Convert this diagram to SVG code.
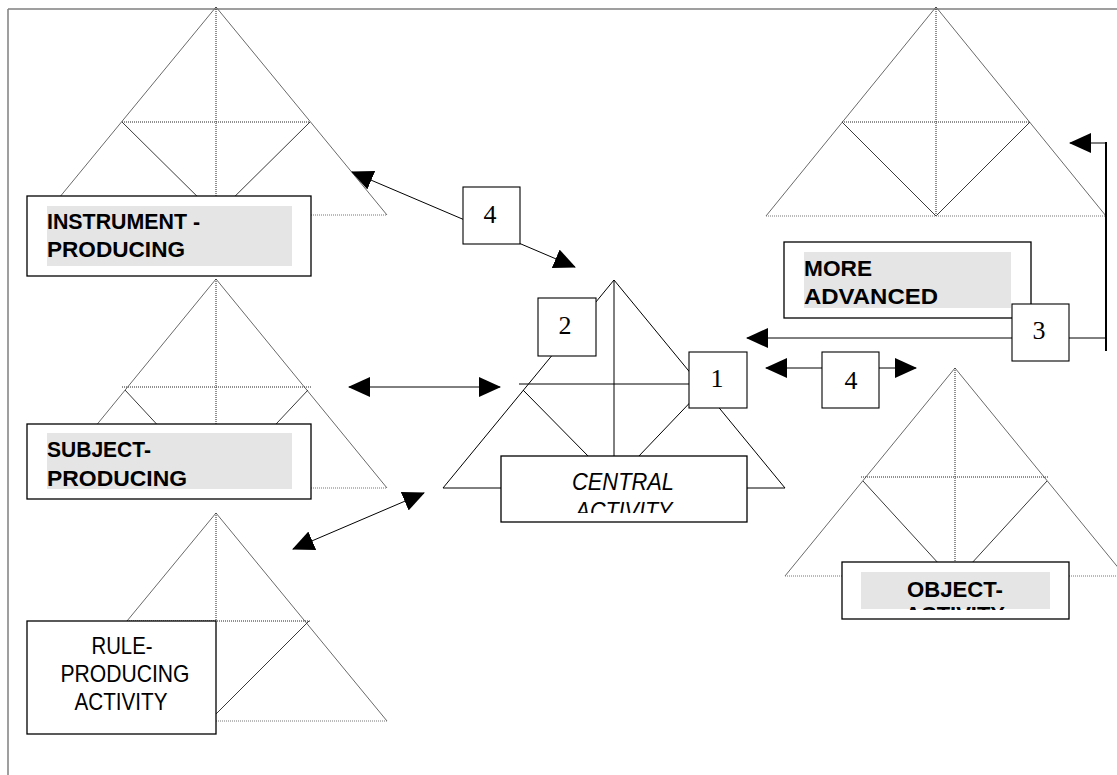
<svg xmlns="http://www.w3.org/2000/svg" width="1117" height="775" viewBox="0 0 1117 775">
<style>
.side{stroke:#6a6a6a;stroke-width:1;fill:none}
.inner{stroke:#3a3a3a;stroke-width:1;fill:none}
.dot{stroke:#222;stroke-width:1;stroke-dasharray:1 1;fill:none}
.base{stroke:#777;stroke-width:1.2;stroke-dasharray:1 1;fill:none}
.solid{stroke:#000;stroke-width:1;fill:none}
.box{fill:#fff;stroke:#000;stroke-width:1.3}
.nbox{fill:#fff;stroke:#000;stroke-width:1.1}
.shade{fill:#e5e5e5}
.bold{font-family:"Liberation Sans",Arial,sans-serif;font-weight:bold;font-size:22px;fill:#000}
.reg{font-family:"Liberation Sans",Arial,sans-serif;font-size:24px;fill:#000}
.ital{font-family:"Liberation Sans",Arial,sans-serif;font-style:italic;font-size:23px;fill:#000}
.num{font-family:"Liberation Serif","Times New Roman",serif;font-size:26px;fill:#000;text-anchor:middle}
.conn{stroke:#000;stroke-width:1;fill:none}
</style>
<defs>
<marker id="ah" markerUnits="userSpaceOnUse" markerWidth="22" markerHeight="20" refX="21" refY="10" orient="auto-start-reverse" viewBox="0 0 22 20">
<path d="M0,0 L22,10 L0,20 z" fill="#000"/>
</marker>
<clipPath id="clipC"><rect x="501" y="457" width="246" height="56"/></clipPath>
<clipPath id="clipO"><rect x="842" y="563" width="227" height="47"/></clipPath>
</defs>
<g id="frame">
<line x1="8" y1="9" x2="1117" y2="9" stroke="#7f7f7f" stroke-width="1.5"/>
<line x1="8" y1="9" x2="8" y2="775" stroke="#7f7f7f" stroke-width="1.5"/>
</g>

<g id="instrument">
<line class="side" x1="216" y1="7" x2="45" y2="215"/>
<line class="side" x1="216" y1="7" x2="387" y2="215"/>
<line class="dot" x1="122" y1="122" x2="310" y2="122"/>
<line class="dot" x1="216" y1="7" x2="216" y2="215"/>
<line class="inner" x1="122" y1="122" x2="216" y2="215"/>
<line class="inner" x1="310" y1="122" x2="216" y2="215"/>
<line class="base" x1="45" y1="215" x2="387" y2="215"/>
<rect class="box" x="27" y="196" width="284" height="80"/>
<rect class="shade" x="47" y="206" width="245" height="60"/>
<text class="bold" x="47" y="229" textLength="153" lengthAdjust="spacingAndGlyphs">INSTRUMENT -</text>
<text class="bold" x="47" y="257" textLength="138" lengthAdjust="spacingAndGlyphs">PRODUCING</text>
</g>

<g id="subject">
<line class="side" x1="216" y1="279" x2="45" y2="488"/>
<line class="side" x1="216" y1="279" x2="387" y2="488"/>
<line class="dot" x1="122" y1="387" x2="311" y2="387"/>
<line class="dot" x1="216" y1="279" x2="216" y2="488"/>
<line class="inner" x1="125" y1="390" x2="216" y2="488"/>
<line class="inner" x1="308" y1="390" x2="216" y2="488"/>
<line class="base" x1="45" y1="488" x2="387" y2="488"/>
<rect class="box" x="27" y="424" width="284" height="75"/>
<rect class="shade" x="47" y="433" width="245" height="56"/>
<text class="bold" x="47" y="457" textLength="104" lengthAdjust="spacingAndGlyphs">SUBJECT-</text>
<text class="bold" x="47" y="486" textLength="140" lengthAdjust="spacingAndGlyphs">PRODUCING</text>
</g>

<g id="rule">
<line class="side" x1="216" y1="513" x2="127" y2="621"/>
<line class="side" x1="216" y1="513" x2="387" y2="721"/>
<line class="dot" x1="216" y1="513" x2="216" y2="621"/>
<line class="dot" x1="127" y1="621" x2="311" y2="621"/>
<line class="inner" x1="309" y1="621" x2="216" y2="714"/>
<line class="base" x1="216" y1="721" x2="387" y2="721"/>
<rect class="box" x="27" y="621" width="189" height="113"/>
<text class="reg" x="122" y="654" text-anchor="middle" textLength="61" lengthAdjust="spacingAndGlyphs">RULE-</text>
<text class="reg" x="125" y="682" text-anchor="middle" textLength="129" lengthAdjust="spacingAndGlyphs">PRODUCING</text>
<text class="reg" x="121" y="710" text-anchor="middle" textLength="93" lengthAdjust="spacingAndGlyphs">ACTIVITY</text>
</g>

<g id="central">
<line class="solid" x1="614" y1="280" x2="443" y2="488"/>
<line class="solid" x1="614" y1="280" x2="785" y2="488"/>
<line class="solid" x1="519" y1="384" x2="700" y2="384"/>
<line class="solid" x1="614" y1="280" x2="614" y2="488"/>
<line class="solid" x1="523" y1="390" x2="590" y2="458"/>
<line class="solid" x1="702" y1="390" x2="638" y2="457"/>
<line class="solid" x1="443" y1="488" x2="785" y2="488"/>
<rect class="box" x="501" y="456" width="246" height="66"/>
<g clip-path="url(#clipC)">
<text class="ital" x="623" y="490" text-anchor="middle" textLength="102" lengthAdjust="spacingAndGlyphs">CENTRAL</text>
<text class="ital" x="624" y="519" text-anchor="middle" textLength="97" lengthAdjust="spacingAndGlyphs">ACTIVITY</text>
</g>
<rect class="nbox" x="538" y="298" width="58" height="58"/>
<text class="num" x="565" y="334">2</text>
<rect class="nbox" x="689" y="352" width="58" height="56"/>
<text class="num" x="717" y="387">1</text>
</g>

<g id="advanced">
<line class="side" x1="936" y1="7" x2="766" y2="216"/>
<line class="side" x1="936" y1="7" x2="1106" y2="216"/>
<line class="dot" x1="842" y1="122" x2="1030" y2="122"/>
<line class="dot" x1="936" y1="7" x2="936" y2="216"/>
<line class="inner" x1="842" y1="122" x2="936" y2="216"/>
<line class="inner" x1="1030" y1="122" x2="936" y2="216"/>
<line class="base" x1="766" y1="216" x2="1106" y2="216"/>
<rect class="box" x="784" y="242" width="247" height="76"/>
<rect class="shade" x="804" y="252" width="207" height="56"/>
<text class="bold" x="804" y="276" textLength="68" lengthAdjust="spacingAndGlyphs">MORE</text>
<text class="bold" x="804" y="304" textLength="134" lengthAdjust="spacingAndGlyphs">ADVANCED</text>
</g>

<g id="object">
<line class="side" x1="955" y1="368" x2="785" y2="576"/>
<line class="side" x1="955" y1="368" x2="1125" y2="576"/>
<line class="dot" x1="861" y1="477" x2="1049" y2="477"/>
<line class="dot" x1="955" y1="368" x2="955" y2="576"/>
<line class="inner" x1="863" y1="481" x2="950" y2="576"/>
<line class="inner" x1="1047" y1="481" x2="960" y2="576"/>
<line class="base" x1="785" y1="576" x2="1125" y2="576"/>
<rect class="box" x="842" y="562" width="227" height="57"/>
<rect class="shade" x="861" y="572" width="189" height="37"/>
<g clip-path="url(#clipO)">
<text class="bold" x="955" y="597" text-anchor="middle" textLength="96" lengthAdjust="spacingAndGlyphs">OBJECT-</text>
<text class="bold" x="955" y="622" text-anchor="middle" textLength="100" lengthAdjust="spacingAndGlyphs">ACTIVITY</text>
</g>
</g>

<g id="connectors">
<line class="conn" x1="352" y1="172" x2="575" y2="267" marker-start="url(#ah)" marker-end="url(#ah)"/>
<line class="conn" x1="349" y1="387" x2="500" y2="387" marker-start="url(#ah)" marker-end="url(#ah)"/>
<line class="conn" x1="293" y1="549" x2="424" y2="493" marker-start="url(#ah)" marker-end="url(#ah)"/>
<line class="conn" x1="766" y1="368" x2="916" y2="368" marker-start="url(#ah)" marker-end="url(#ah)"/>
<line class="conn" x1="1106" y1="338" x2="747" y2="338" marker-end="url(#ah)"/>
<line x1="1106" y1="142" x2="1106" y2="351" stroke="#000" stroke-width="2"/>
<line class="conn" x1="1106" y1="143" x2="1070" y2="143" marker-end="url(#ah)"/>
<rect class="nbox" x="463" y="187" width="57" height="57"/>
<text class="num" x="490" y="223">4</text>
<rect class="nbox" x="822" y="352" width="57" height="56"/>
<text class="num" x="851" y="389">4</text>
<rect class="nbox" x="1012" y="304" width="57" height="57"/>
<text class="num" x="1039" y="339">3</text>
</g>
</svg>
